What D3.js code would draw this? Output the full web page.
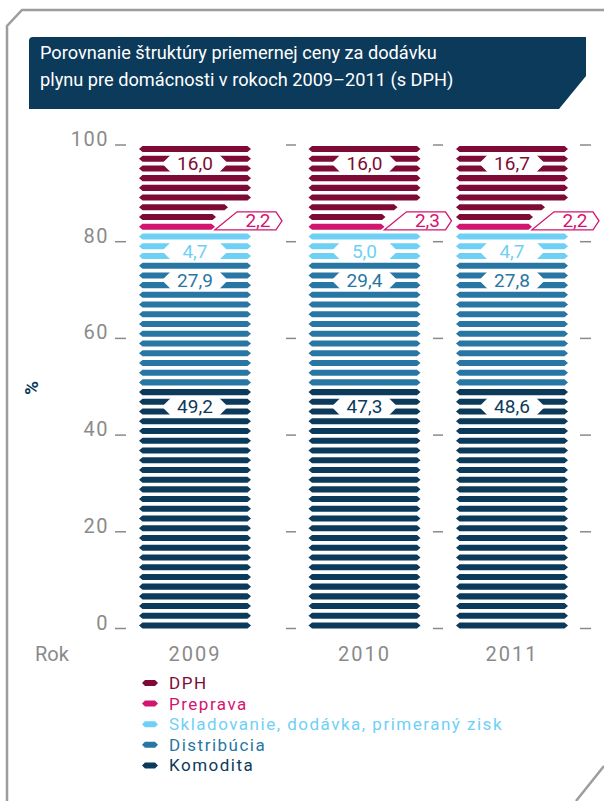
<!DOCTYPE html>
<html><head><meta charset="utf-8">
<script src="https://cdn.jsdelivr.net/npm/d3@7/dist/d3.min.js"></script>
<style>
html,body{margin:0;padding:0;background:#fff;}
svg{display:block;font-family:Roboto, "Noto Sans", sans-serif;}
</style></head>
<body>
<svg id="chart" width="604" height="801"></svg>
<script>
// ---- data ----
const years = ["2009", "2010", "2011"];
const komodita    = [49.2, 47.3, 48.6];
const distribucia = [27.9, 29.4, 27.8];
const skladovanie = [4.7, 5.0, 4.7];
const preprava    = [2.2, 2.3, 2.2];
const dph         = [16.0, 16.0, 16.7];
const yTicks = [0, 20, 40, 60, 80, 100];
const seriesNames = ["Komodita", "Distribúcia", "Skladovanie, dodávka, primeraný zisk", "Preprava", "DPH"];
const seriesColors = ["#0c3a5b", "#2876a3", "#6fd0f6", "#d2156f", "#7e0b36"];
// decorative stripe pattern seen in the picture (stripes per segment, bottom to top, 50 per column)
const stripesPerSegment = [25, 13, 3, 1, 8];
const titleLines = ["Porovnanie štruktúry priemernej ceny za dodávku", "plynu pre domácnosti v rokoch 2009–2011 (s DPH)"];

const series = [komodita, distribucia, skladovanie, preprava, dph];
const fmt = v => v.toFixed(1).replace(".", ",");

const svg = d3.select("#chart");
const navy = "#0c3a5b", gray = "#8a8a8a";

// frame
svg.append("path").attr("d", "M604,10 L22,10 L7,26 L7,801").attr("fill", "none").attr("stroke", "#9d9d9d").attr("stroke-width", 2.5);
svg.append("path").attr("d", "M604,766 L576,801").attr("fill", "none").attr("stroke", "#9d9d9d").attr("stroke-width", 2.5);

// title
svg.append("path").attr("d", "M33,37 L586,37 L586,76 L559,109 L29,109 L29,41 Q29,37 33,37 Z").attr("fill", navy);
titleLines.forEach((t, i) => {
  svg.append("text").attr("x", 40).attr("y", 59 + i * 27).attr("fill", "#fff")
    .attr("font-size", 18.2).text(t);
});

// scales
const y = d3.scaleLinear().domain([0, 100]).range([628.5, 145]);
const x = d3.scaleOrdinal().domain(years).range([195, 364.5, 512]);
const colW = 112;
const nStripes = d3.sum(stripesPerSegment);
const stripeY = d3.scaleBand().domain(d3.range(nStripes)).range([y(0) + 2, y(100) - 1]).paddingInner(0.38).paddingOuter(0.2);
const sh = stripeY.bandwidth();

function hexPath(x0, x1, yc, h, tip) {
  return `M${x0},${yc} L${x0 + tip},${yc - h / 2} L${x1 - tip},${yc - h / 2} L${x1},${yc} L${x1 - tip},${yc + h / 2} L${x0 + tip},${yc + h / 2} Z`;
}

// y axis labels + tick marks
const tickXs = [[115, 126], [286, 296], [433, 443], [580, 591]];
yTicks.forEach(t => {
  svg.append("text").attr("x", 109).attr("y", y(t) + 1).attr("text-anchor", "end")
    .attr("fill", gray).attr("font-size", 20).attr("letter-spacing", 1.5).text(t);
  tickXs.forEach(([a, b]) => {
    svg.append("line").attr("x1", a).attr("x2", b).attr("y1", y(t)).attr("y2", y(t))
      .attr("stroke", gray).attr("stroke-width", 1.5);
  });
});

svg.append("text").attr("transform", "translate(31,388) rotate(-90)").attr("text-anchor", "middle")
  .attr("dominant-baseline", "central").attr("fill", navy).attr("font-size", 19).attr("font-weight", 700).text("%");

svg.append("text").attr("x", 35).attr("y", 661).attr("fill", gray).attr("font-size", 20).text("Rok");

years.forEach((yr, j) => {
  const xc = x(yr), x0 = xc - colW / 2, x1 = xc + colW / 2;
  const vals = series.map(s => s[j]);
  const g = svg.append("g");
  let idx = 0;
  const segRange = [];
  stripesPerSegment.forEach(c => { segRange.push([idx, idx + c - 1]); idx += c; });
  // stripes
  segRange.forEach(([a, b], k) => {
    for (let i = a; i <= b; i++) {
      let end = x1;
      if (k === 3) end = x0 + 76;
      if (k === 4 && i === a) end = x0 + 77;
      if (k === 4 && i === a + 1) end = x0 + 89;
      g.append("path").attr("d", hexPath(x0, end, stripeY(i) + sh / 2, sh, 3.5)).attr("fill", seriesColors[k]);
    }
  });
  // in-bar labels between 2nd and 3rd stripe from the segment top
  [0, 1, 2, 4].forEach(k => {
    const top = segRange[k][1];
    const yc = (stripeY(top - 1) + stripeY(top - 2) + sh) / 2;
    g.append("path").attr("d", hexPath(xc - 33, xc + 33, yc, sh * 2 + 6, 9)).attr("fill", "#fff");
    g.append("text").attr("x", xc).attr("y", yc).attr("text-anchor", "middle").attr("dominant-baseline", "central")
      .attr("fill", seriesColors[k]).attr("font-size", 19).text(fmt(vals[k]));
  });
  // callout for Preprava
  const pi = segRange[3][0];
  const py = stripeY(pi) + sh;
  const bx = x0 + 76;
  g.append("path").attr("d", `M${bx},${py} L${bx + 22},${py - 18} L${bx + 61},${py - 18} L${bx + 67},${py - 9} L${bx + 61},${py} Z`)
    .attr("fill", "#fff").attr("stroke", seriesColors[3]).attr("stroke-width", 1.3);
  g.append("text").attr("x", bx + 43).attr("y", py - 9).attr("text-anchor", "middle").attr("dominant-baseline", "central")
    .attr("fill", seriesColors[3]).attr("font-size", 19).text(fmt(vals[3]));
  // year label
  svg.append("text").attr("x", xc).attr("y", 661).attr("text-anchor", "middle").attr("fill", gray)
    .attr("font-size", 20).attr("letter-spacing", 2).text(yr);
});

// legend (top-down order: DPH first)
const legOrder = [4, 3, 2, 1, 0];
legOrder.forEach((k, r) => {
  const yy = 683 + r * 20.6;
  svg.append("path").attr("d", hexPath(142, 158, yy, 6, 3)).attr("fill", seriesColors[k]);
  svg.append("text").attr("x", 169).attr("y", yy).attr("dominant-baseline", "central")
    .attr("fill", seriesColors[k]).attr("font-size", 17).attr("letter-spacing", 1.5).text(seriesNames[k]);
});
</script>
</body></html>
